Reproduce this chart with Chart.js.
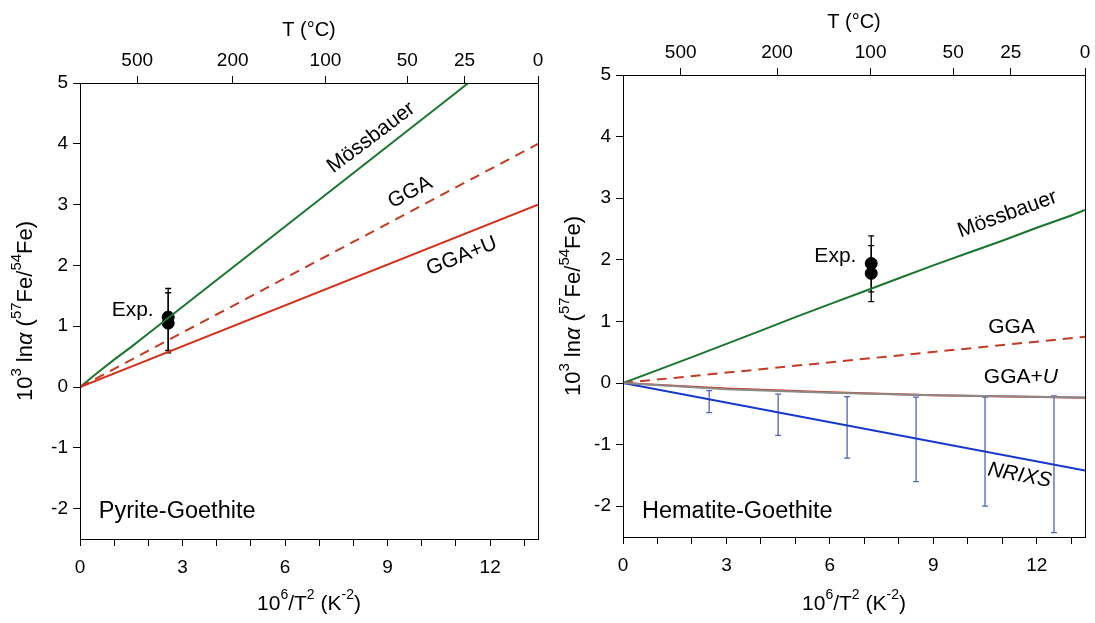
<!DOCTYPE html>
<html><head><meta charset="utf-8">
<script src="https://cdn.jsdelivr.net/npm/chart.js@4.4.0/dist/chart.umd.min.js"></script>
<style>
html,body{margin:0;padding:0;background:#fff;}
#w{position:relative;width:1095px;height:623px;overflow:hidden;}
.p{position:absolute;top:0;height:623px;}
</style></head><body>
<div id="w">
<div class="p" style="left:0;width:548px"><canvas id="c1"></canvas></div>
<div class="p" style="left:548px;width:547px"><canvas id="c2"></canvas></div>
</div>
<script>
// ---------- shared tick labels ----------
const tempTicksC = [500, 200, 100, 50, 25, 0];      // top axis, T (°C)
const xTickLabels = [0, 3, 6, 9, 12];               // bottom axis labels
const yTicks = [-2, -1, 0, 1, 2, 3, 4, 5];

// ---------- Pyrite-Goethite ----------
const pgMossX = [0, 0.5, 1, 1.5, 2, 3, 4, 5, 6, 7, 8, 9, 10, 11, 11.36];
const pgMossY = [0, 0.23, 0.45, 0.66, 0.88, 1.32, 1.76, 2.2, 2.64, 3.08, 3.52, 3.96, 4.4, 4.84, 5.0];
const pgGgaX = [0, 13.4];
const pgGgaY = [0, 4.0];
const pgGgaUX = [0, 13.4];
const pgGgaUY = [0, 3.0];
const pgExpX = [2.58, 2.58];
const pgExpY = [1.15, 1.05];
const pgExpLo = [0.6, 0.56];
const pgExpHi = [1.62, 1.55];

// ---------- Hematite-Goethite ----------
const hgMossX = [0, 1, 2, 3, 4, 5, 6, 7, 8, 9, 10, 11, 12, 13, 13.4];
const hgMossY = [0, 0.21, 0.42, 0.635, 0.85, 1.07, 1.28, 1.49, 1.7, 1.91, 2.11, 2.31, 2.52, 2.72, 2.81];
const hgGgaX = [0, 13.4];
const hgGgaY = [0, 0.75];
const hgGgaUX = [0, 3, 6, 9, 13.4];
const hgGgaUY = [0, -0.09, -0.15, -0.2, -0.24];
const hgGgaUgY = [0, -0.1, -0.16, -0.2, -0.235];
const hgNrixsX = [0, 13.4];
const hgNrixsY = [0, -1.42];
const hgExpX = [7.2, 7.2];
const hgExpY = [1.94, 1.78];
const hgExpLo = [1.48, 1.32];
const hgExpHi = [2.39, 2.23];
const hgNrErrX = [2.5, 4.5, 6.5, 8.5, 10.5, 12.5];
const hgNrErrLo = [-0.48, -0.85, -1.22, -1.6, -2.0, -2.43];
const hgNrErrHi = [-0.125, -0.18, -0.22, -0.23, -0.23, -0.21];

// ---------- styling ----------
const FAM = '"Liberation Sans", Arial, Helvetica, sans-serif';
const GREEN = '#18772d', RED = '#d3301a', DRED = '#c23b22', BLUE = '#1537cf', EBLUE = '#5262bf';

const pts = (xs, ys) => xs.map((x, i) => ({x, y: ys[i]}));

function rich(ctx, parts, x, y, size, align, rotDeg) {
  const font = s => (s.indexOf('i') >= 0 ? 'italic ' : '') + (s.indexOf('s') >= 0 ? Math.round(size * 0.66) : size) + 'px ' + FAM;
  ctx.save();
  ctx.translate(x, y);
  ctx.rotate((rotDeg || 0) * Math.PI / 180);
  let total = 0;
  parts.forEach(p => { ctx.font = font(p[1]); total += ctx.measureText(p[0]).width; });
  let cx = align === 'center' ? -total / 2 : (align === 'right' ? -total : 0);
  ctx.textBaseline = 'middle'; ctx.textAlign = 'left'; ctx.fillStyle = '#000';
  parts.forEach(p => {
    ctx.font = font(p[1]);
    const dy = p[1].indexOf('s') >= 0 ? -size * 0.42 : 0;
    ctx.fillText(p[0], cx, dy);
    cx += ctx.measureText(p[0]).width;
  });
  ctx.restore();
}

const yTitle = [['10','n'],['3','s'],[' ln','n'],['\u03B1','i'],[' (','n'],['57','s'],['Fe/','n'],['54','s'],['Fe)','n']];
const xTitle = [['10','n'],['6','s'],['/T','n'],['2','s'],[' (K','n'],['-2','s'],[')','n']];

function errBars(chart, xs, lo, hi, color, cap) {
  const ctx = chart.ctx, sx = chart.scales.x, sy = chart.scales.y;
  ctx.save();
  ctx.strokeStyle = color; ctx.lineWidth = 1.3;
  xs.forEach((x, i) => {
    const px = sx.getPixelForValue(x), p1 = sy.getPixelForValue(lo[i]), p2 = sy.getPixelForValue(hi[i]);
    ctx.beginPath();
    ctx.moveTo(px, p1); ctx.lineTo(px, p2);
    ctx.moveTo(px - cap, p1); ctx.lineTo(px + cap, p1);
    ctx.moveTo(px - cap, p2); ctx.lineTo(px + cap, p2);
    ctx.stroke();
  });
  ctx.restore();
}

function makePanel(id, geom, datasets, bars, labels) {
  const overlay = {
    id: 'ov' + id,
    beforeDatasetsDraw(chart) {
      bars.forEach(b => errBars(chart, b.x, b.lo, b.hi, b.color, b.cap));
    },
    afterDraw(chart) {
      const ctx = chart.ctx, a = chart.chartArea, sx = chart.scales.x, sy = chart.scales.y;
      ctx.save();
      ctx.strokeStyle = '#000'; ctx.lineWidth = 1;
      ctx.strokeRect(Math.round(a.left) + 0.5, Math.round(a.top) + 0.5, Math.round(a.right - a.left), Math.round(a.bottom - a.top));
      ctx.restore();
      labels.forEach(l => {
        rich(ctx, l.parts, sx.getPixelForValue(l.x), sy.getPixelForValue(l.y), l.size, l.align, l.rot);
      });
      const cxm = (a.left + a.right) / 2;
      rich(ctx, [['T (\u00B0C)','n']], cxm, geom.tTitleY, 20, 'center', 0);
      rich(ctx, xTitle, cxm, geom.xTitleY, 21, 'center', 0);
      rich(ctx, yTitle, geom.yTitleX, (a.top + a.bottom) / 2, 22, 'center', -90);
    }
  };
  const tickFont = {size: 19, family: FAM};
  const gridOpt = {drawOnChartArea: false, color: '#000', tickColor: '#000', tickLength: 7, lineWidth: 1};
  return new Chart(document.getElementById(id), {
    type: 'scatter',
    data: {datasets},
    options: {
      responsive: true, maintainAspectRatio: false, animation: false,
      layout: {padding: {left: 0, right: geom.padR, top: 0, bottom: 0}},
      plugins: {legend: {display: false}, tooltip: {enabled: false}},
      scales: {
        x: {
          type: 'linear', position: 'bottom', min: 0, max: 13.4,
          afterFit: s => { s.height = geom.bottomH; },
          ticks: {stepSize: 1, includeBounds: false, autoSkip: false, maxRotation: 0, padding: 10, color: '#000', font: tickFont,
            callback: v => xTickLabels.includes(v) ? String(v) : ''},
          grid: gridOpt, border: {color: '#000', width: 1}
        },
        x2: {
          type: 'linear', position: 'top', min: 0, max: 13.4,
          afterBuildTicks: s => { s.ticks = tempTicksC.map(t => ({value: 1e6 / Math.pow(t + 273.15, 2)})); },
          afterFit: s => { s.height = geom.topH; },
          ticks: {autoSkip: false, maxRotation: 0, padding: 4, color: '#000', font: tickFont,
            callback: (v, i) => String(tempTicksC[i])},
          grid: gridOpt, border: {color: '#000', width: 1}
        },
        y: {
          type: 'linear', position: 'left', min: -2.5, max: 5,
          afterBuildTicks: s => { s.ticks = yTicks.map(v => ({value: v})); },
          afterFit: s => { s.width = geom.leftW; },
          ticks: {autoSkip: false, padding: 5, color: '#000', font: tickFont, callback: v => String(v)},
          grid: gridOpt, border: {color: '#000', width: 1}
        }
      }
    },
    plugins: [overlay]
  });
}

const lineDs = (xs, ys, color, dash, w) => ({
  data: pts(xs, ys), showLine: true, borderColor: color, borderWidth: w || 2, borderDash: dash || [],
  pointRadius: 0, fill: false, tension: 0, xAxisID: 'x', yAxisID: 'y'
});
const expDs = (xs, ys) => ({
  data: pts(xs, ys), showLine: false, pointRadius: 6, pointBackgroundColor: '#000', pointBorderColor: '#000',
  xAxisID: 'x', yAxisID: 'y'
});

makePanel('c1',
  {leftW: 80, padR: 10, topH: 83, bottomH: 84, tTitleY: 30, xTitleY: 604, yTitleX: 26},
  [
    lineDs(pgGgaUX, pgGgaUY, RED),
    lineDs(pgGgaX, pgGgaY, DRED, [10, 7]),
    lineDs(pgMossX, pgMossY, GREEN),
    expDs(pgExpX, pgExpY)
  ],
  [{x: pgExpX, lo: pgExpLo, hi: pgExpHi, color: '#000', cap: 3}],
  [
    {parts: [['M\u00F6ssbauer','n']], x: 8.52, y: 4.1, size: 21, align: 'center', rot: -37},
    {parts: [['GGA','n']], x: 9.66, y: 3.2, size: 21, align: 'center', rot: -28},
    {parts: [['GGA+U','n']], x: 11.17, y: 2.15, size: 21, align: 'center', rot: -22},
    {parts: [['Exp.','n']], x: 1.54, y: 1.26, size: 21, align: 'center', rot: 0},
    {parts: [['Pyrite-Goethite','n']], x: 0.55, y: -2.05, size: 23.5, align: 'left', rot: 0}
  ]
);

makePanel('c2',
  {leftW: 75, padR: 10, topH: 75, bottomH: 86, tTitleY: 22, xTitleY: 604, yTitleX: 26},
  [
    lineDs(hgGgaUX, hgGgaUgY, '#8a8a8a'),
    lineDs(hgNrixsX, hgNrixsY, BLUE),
    lineDs(hgGgaUX, hgGgaUY, RED),
    lineDs(hgGgaX, hgGgaY, DRED, [10, 7]),
    lineDs(hgMossX, hgMossY, GREEN),
    expDs(hgExpX, hgExpY)
  ],
  [
    {x: hgNrErrX, lo: hgNrErrLo, hi: hgNrErrHi, color: EBLUE, cap: 3},
    {x: hgExpX, lo: hgExpLo, hi: hgExpHi, color: '#000', cap: 3}
  ],
  [
    {parts: [['M\u00F6ssbauer','n']], x: 11.15, y: 2.74, size: 21, align: 'center', rot: -20},
    {parts: [['GGA','n']], x: 11.27, y: 0.9, size: 21, align: 'center', rot: 0},
    {parts: [['GGA+','n'],['U','i']], x: 11.54, y: 0.09, size: 21, align: 'center', rot: 0},
    {parts: [['NRIXS','i']], x: 11.5, y: -1.5, size: 21, align: 'center', rot: 10.5},
    {parts: [['Exp.','n']], x: 6.16, y: 2.06, size: 21, align: 'center', rot: 0},
    {parts: [['Hematite-Goethite','n']], x: 0.55, y: -2.08, size: 23.5, align: 'left', rot: 0}
  ]
);
</script>
</body></html>
